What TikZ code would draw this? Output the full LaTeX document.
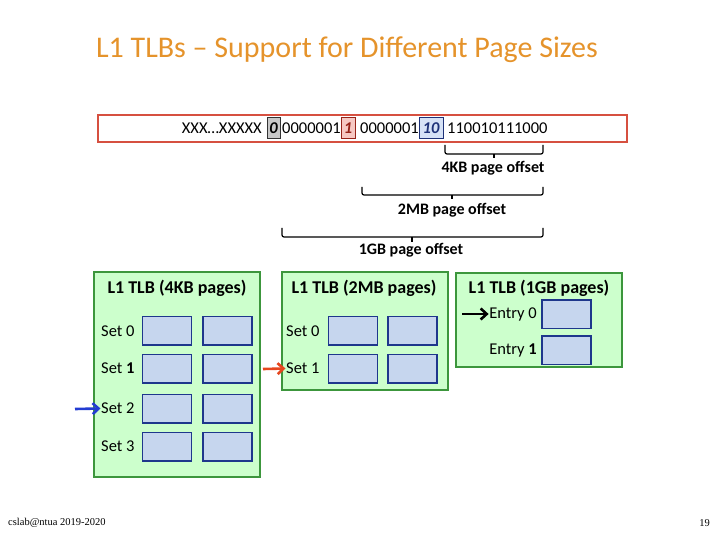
\documentclass[tikz,border=0pt]{standalone}
\usepackage{fontspec}
\setmainfont{Carlito}
\newfontfamily\footfont{Liberation Serif}
\usetikzlibrary{arrows.meta}
\definecolor{titleor}{RGB}{229,147,43}
\definecolor{barred}{RGB}{214,80,64}
\definecolor{tlbfill}{RGB}{204,255,204}
\definecolor{tlbline}{RGB}{60,150,60}
\definecolor{cellfill}{RGB}{198,214,238}
\definecolor{cellline}{RGB}{30,55,140}
\definecolor{zbfill}{RGB}{200,200,200}
\definecolor{obfill}{RGB}{246,200,195}
\definecolor{obline}{RGB}{150,35,25}
\definecolor{tbfill}{RGB}{214,226,246}
\definecolor{tbline}{RGB}{30,50,120}
\definecolor{arrblue}{RGB}{35,60,210}
\definecolor{arrred}{RGB}{230,70,30}
\tikzset{
  ttl/.style={text=titleor, font=\fontsize{30}{33}\selectfont},
  bits/.style={inner sep=0pt, font=\fontsize{16.5}{18}\selectfont, anchor=west},
  bitbox/.style={draw, line width=1pt, inner sep=0pt, minimum height=21, font=\fontsize{16.5}{18}\selectfont\bfseries\itshape},
  brace/.style={line width=1.2pt, rounded corners=2pt},
  bracelbl/.style={font=\fontsize{16}{18}\selectfont\bfseries},
  tlb/.style={draw=tlbline, fill=tlbfill, line width=1.5pt},
  tlbtitle/.style={font=\fontsize{18}{20}\selectfont\bfseries},
  lbl/.style={font=\fontsize{16.5}{18}\selectfont, inner sep=0pt},
  cell/.style={draw=cellline, fill=cellfill, line width=1.5pt, minimum width=49, minimum height=28.5, inner sep=0pt},
  ptr/.style={line width=2.6pt, -{Straight Barb[length=6pt, width=11pt]}},
  foot/.style={font=\footfont\fontsize{10.5}{12}\selectfont, inner sep=0pt}
}
\begin{document}
\begin{tikzpicture}[x=1pt,y=-1pt]
\useasboundingbox (0,0) rectangle (720,540);
% title
\node[ttl] (title) at (347,50) {L1 TLBs – Support for Different Page Sizes};
% address bar
\draw[draw=barred, fill=white, line width=1.5pt] (98,115) rectangle (627,142);
\node[bits, anchor=east] (t1) at (262,128.5) {XXX…XXXXX};
\node[bitbox, fill=zbfill, draw=black!80, minimum width=13] (b0) at (273.5,128.5) {0};
\node[bits] (t2) at (282,128.5) {0000001};
\node[bitbox, fill=obfill, draw=obline, text=obline, minimum width=14] (b1) at (348,128.5) {1};
\node[bits] (t3) at (360,128.5) {0000001};
\node[bitbox, fill=tbfill, draw=tbline, text=tbline, minimum width=24] (b2) at (431,128.5) {10};
\node[bits] (t4) at (447,128.5) {110010111000};
% braces
\draw[brace] (445,145) -- (445,154) -- (543,154) -- (543,145);
\draw[line width=1.2pt] (494,154) -- (494,158);
\node[bracelbl] (l4k) at (493,168) {4KB page offset};
\draw[brace] (362,187) -- (362,195) -- (543,195) -- (543,187);
\draw[line width=1.2pt] (452,195) -- (452,199.5);
\node[bracelbl] (l2m) at (452,210.5) {2MB page offset};
\draw[brace] (282,228) -- (282,237) -- (543,237) -- (543,228);
\draw[line width=1.2pt] (412,237) -- (412,241.5);
\node[bracelbl] (l1g) at (411,250) {1GB page offset};
% 4KB TLB
\draw[tlb] (94,272) rectangle (260,477);
\node[tlbtitle] (h4k) at (177,288) {L1 TLB (4KB pages)};
\foreach \r/\y/\t in {0/330.8/0, 1/368.5/\textbf{1}, 2/408.5/2, 3/446.5/3}{
  \node[lbl, anchor=west] (s4k\r) at (101,\y) {Set \t};
  \node[cell] (c4k\r a) at (167,\y) {};
  \node[cell] (c4k\r b) at (227.3,\y) {};
}
% 2MB TLB
\draw[tlb] (282,272) rectangle (448,390);
\node[tlbtitle] (h2m) at (364,288) {L1 TLB (2MB pages)};
\foreach \r/\y in {0/330.8, 1/368.5}{
  \node[lbl, anchor=west] (s2m\r) at (286,\y) {Set \r};
  \node[cell] (c2m\r a) at (353,\y) {};
  \node[cell] (c2m\r b) at (412.5,\y) {};
}
% 1GB TLB
\draw[tlb] (456,273) rectangle (622,367);
\node[tlbtitle] (h1g) at (539,288) {L1 TLB (1GB pages)};
\node[lbl, anchor=east] (e0) at (537,314) {Entry 0};
\node[lbl, anchor=east] (e1) at (537,350) {Entry \textbf{1}};
\node[cell] (g0) at (566.5,314) {};
\node[cell] (g1) at (566.5,350) {};
% pointer arrows
\coordinate (pk) at (462,314);
\coordinate (pr) at (263,369);
\coordinate (pb) at (75,409);
\draw[ptr, black] (pk) -- ([xshift=-0.5]e0.west);
\draw[ptr, arrred] (pr) -- ([xshift=-0.5]s2m1.west);
\draw[ptr, arrblue] (pb) -- ([xshift=-0.5]s4k2.west);
% footer
\node[foot, anchor=west] (fl) at (8,523) {cslab@ntua 2019-2020};
\node[foot, anchor=east] (fr) at (710,523) {19};
\end{tikzpicture}
\end{document}
